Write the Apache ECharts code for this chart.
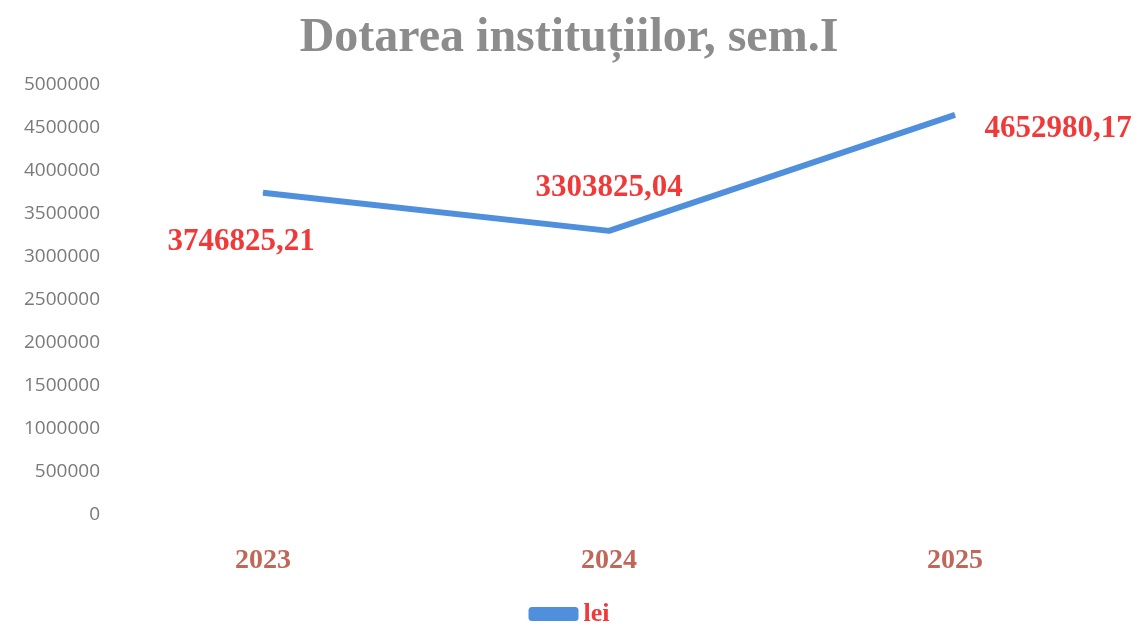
<!DOCTYPE html>
<html>
<head>
<meta charset="utf-8">
<script src="https://cdn.jsdelivr.net/npm/echarts@6/dist/echarts.min.js"></script>
<style>
  html, body { margin: 0; padding: 0; background: #fff; }
  #chart { width: 1138px; height: 634px; }
</style>
</head>
<body>
<div id="chart"></div>
<script>
// data
var years = ['2023', '2024', '2025'];
var lei = [3746825.21, 3303825.04, 4652980.17];
var yTicks = [0, 500000, 1000000, 1500000, 2000000, 2500000, 3000000, 3500000, 4000000, 4500000, 5000000];

// where each value label sits around its point
var labelPos = [
    { position: 'bottom', offset: [-22, 28] },
    { position: 'top', offset: [0, -22] },
    { position: 'right', offset: [24, 14] }
];

var serif = '"Liberation Serif", "DejaVu Serif", serif';

var myChart = echarts.init(document.getElementById('chart'));
var option = {
    animation: false,
    title: {
        text: 'Dotarea instituțiilor, sem.I',
        left: 'center',
        top: 10,
        textStyle: {
            fontFamily: serif,
            fontWeight: 'bold',
            fontSize: 48,
            color: '#8c8c8c'
        }
    },
    legend: {
        bottom: 2,
        left: 'center',
        itemWidth: 50,
        itemHeight: 14,
        icon: 'roundRect',
        data: ['lei'],
        textStyle: {
            fontFamily: serif,
            fontWeight: 'bold',
            fontSize: 26,
            color: '#f03a3a'
        }
    },
    grid: {
        left: 90,
        right: 10,
        top: 85,
        bottom: 119,
        containLabel: false
    },
    xAxis: {
        type: 'category',
        data: years,
        axisLine: { show: false },
        axisTick: { show: false },
        axisLabel: {
            margin: 32,
            fontFamily: serif,
            fontWeight: 'bold',
            fontSize: 28,
            color: '#c0675a'
        }
    },
    yAxis: {
        type: 'value',
        min: yTicks[0],
        max: yTicks[yTicks.length - 1],
        interval: yTicks[1] - yTicks[0],
        axisLine: { show: false },
        axisTick: { show: false },
        splitLine: { show: false },
        axisLabel: {
            margin: -10,
            fontFamily: '"Open Sans", sans-serif',
            fontSize: 19,
            color: '#7a7a7a',
            formatter: function (v) { return String(v); }
        }
    },
    series: [
        {
            name: 'lei',
            type: 'line',
            data: lei.map(function (v, i) {
                return { value: v, label: labelPos[i] };
            }),
            symbol: 'circle',
            symbolSize: 1,
            lineStyle: { color: '#4f8fdc', width: 6 },
            itemStyle: { color: '#4f8fdc' },
            label: {
                show: true,
                fontFamily: serif,
                fontWeight: 'bold',
                fontSize: 31,
                color: '#f03a3a',
                formatter: function (p) {
                    return p.value.toFixed(2).replace('.', ',');
                }
            }
        }
    ]
};
myChart.setOption(option);
</script>
</body>
</html>
